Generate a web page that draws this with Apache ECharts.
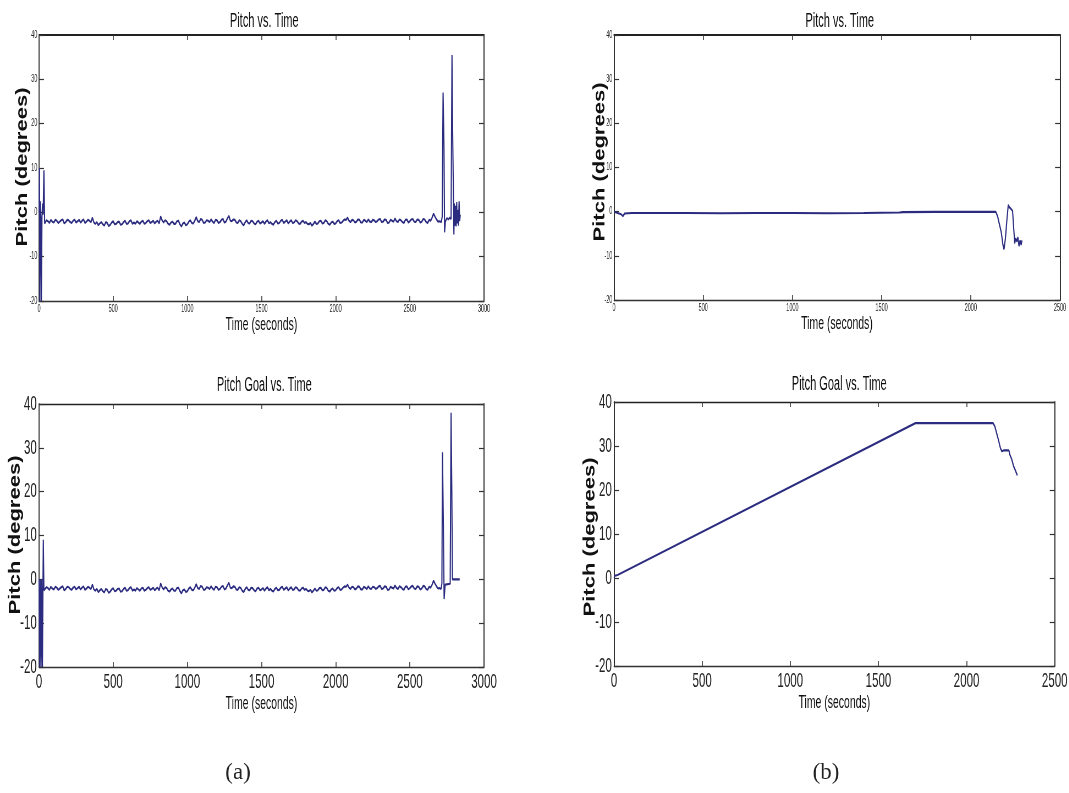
<!DOCTYPE html>
<html><head><meta charset="utf-8">
<script src="https://cdn.jsdelivr.net/npm/echarts@6/dist/echarts.min.js"></script>
<style>
html,body{margin:0;padding:0;background:#fff;overflow:hidden;width:1069px;height:793px}
#c{width:1944px;height:793px;transform:scaleX(0.55);transform-origin:0 0;}
</style>
</head><body><div id="c"></div>
<script>
// ---------------- DATA ----------------
const yTicks = [-20, -10, 0, 10, 20, 30, 40];
const xTicksA = [0, 500, 1000, 1500, 2000, 2500, 3000];
const xTicksB = [0, 500, 1000, 1500, 2000, 2500];

// (a) cruise noise (shared by pitch and pitch goal)
const noiseT = [40,60,80,100,120,140,160,180,200,220,
240,260,280,300,320,340,360,380,400,420,
440,460,480,500,520,540,560,580,600,620,
640,660,680,700,720,740,760,780,800,820,
840,860,880,900,920,940,960,980,1000,1020,
1040,1060,1080,1100,1120,1140,1160,1180,1200,1220,
1240,1260,1280,1300,1320,1340,1360,1380,1400,1420,
1440,1460,1480,1500,1520,1540,1560,1580,1600,1620,
1640,1660,1680,1700,1720,1740,1760,1780,1800,1820,
1840,1860,1880,1900,1920,1940,1960,1980,2000,2020,
2040,2060,2080,2100,2120,2140,2160,2180,2200,2220,
2240,2260,2280,2300,2320,2340,2360,2380,2400,2420,
2440,2460,2480,2500,2520,2540,2560,2580,2600,2620,
2640,2660,2680,2700];
const noiseV = [-2.4,-2.0,-1.7,-2.3,-1.9,-2.1,-1.6,-2.2,-1.8,-2.4,
-1.7,-2.0,-2.3,-1.6,-2.1,-1.9,-1.2,-2.6,-2.9,-2.2,
-3.0,-2.4,-2.8,-2.0,-2.6,-2.1,-2.7,-1.9,-2.5,-1.8,
-2.3,-2.0,-2.6,-1.9,-2.4,-1.8,-2.2,-2.5,-1.9,-0.9,
-2.3,-2.0,-2.8,-2.1,-2.6,-1.9,-3.2,-2.3,-2.7,-1.8,
-2.5,-1.1,-2.2,-1.7,-2.3,-1.9,-1.6,-2.4,-1.8,-2.2,
-1.5,-2.1,-0.8,-2.0,-1.7,-2.4,-2.0,-2.9,-1.8,-2.5,
-2.0,-2.7,-1.9,-2.3,-2.6,-1.8,-2.2,-2.8,-1.9,-2.4,
-1.7,-2.1,-2.5,-1.8,-2.3,-2.0,-2.6,-1.9,-2.2,-2.7,
-3.0,-2.1,-2.5,-1.9,-2.4,-2.0,-2.8,-2.1,-2.5,-1.8,
-2.3,-1.6,-1.2,-2.2,-1.8,-2.1,-1.7,-2.3,-1.9,-1.6,
-2.2,-1.8,-2.0,-1.5,-2.1,-1.7,-2.3,-1.9,-1.4,-2.2,
-1.8,-2.4,-1.6,-2.0,-1.5,-2.2,-1.7,-2.1,-1.6,-2.4,
-1.9,-0.3,-1.6,-2.0];
const noiseMidT = [50,70,90,110,130,150,170,190,210,230,
250,270,290,310,330,350,370,390,410,430,
450,470,490,510,530,550,570,590,610,630,
650,670,690,710,730,750,770,790,810,830,
850,870,890,910,930,950,970,990,1010,1030,
1050,1070,1090,1110,1130,1150,1170,1190,1210,1230,
1250,1270,1290,1310,1330,1350,1370,1390,1410,1430,
1450,1470,1490,1510,1530,1550,1570,1590,1610,1630,
1650,1670,1690,1710,1730,1750,1770,1790,1810,1830,
1850,1870,1890,1910,1930,1950,1970,1990,2010,2030,
2050,2070,2090,2110,2130,2150,2170,2190,2210,2230,
2250,2270,2290,2310,2330,2350,2370,2390,2410,2430,
2450,2470,2490,2510,2530,2550,2570,2590,2610,2630,
2650,2670,2690];
const noiseMidV = [-1.8,-2.4,-2.1,-1.7,-2.4,-1.8,-2.5,-1.7,-2.2,-1.9,
-2.3,-1.7,-1.9,-2.4,-1.7,-2.2,-2.3,-2.2,-2.5,-2.7,
-2.2,-3.1,-2.3,-2.7,-2.2,-2.8,-2.2,-2.6,-2.0,-2.6,
-2.6,-2.3,-2.1,-2.6,-2.0,-2.4,-1.9,-2.1,-2.5,-1.8,
-1.8,-2.6,-2.3,-2.6,-2.0,-2.7,-2.5,-2.9,-2.1,-2.4,
-1.9,-2.0,-1.5,-2.4,-1.8,-2.2,-2.1,-1.7,-2.4,-1.7,
-2.3,-1.4,-1.9,-1.6,-2.3,-1.8,-2.6,-2.2,-2.4,-1.9,
-2.5,-2.1,-2.5,-2.0,-2.1,-2.5,-2.6,-2.2,-2.5,-1.9,
-2.4,-1.8,-2.1,-2.4,-1.8,-2.5,-2.1,-2.4,-2.6,-2.4,
-2.6,-2.6,-2.0,-2.5,-1.8,-2.6,-2.3,-2.6,-2.0,-2.4,
-1.9,-1.7,-1.9,-1.7,-2.3,-1.6,-2.3,-1.7,-2.2,-2.1,
-1.7,-2.2,-1.6,-2.2,-1.6,-2.4,-1.7,-2.1,-2.0,-1.6,
-2.2,-1.7,-2.3,-1.6,-2.1,-1.6,-2.3,-1.5,-2.2,-1.7,
-1.2,-1.0,-2.1];

// (a) pitch: launch and end segments
const aPitchStartT = [0,3,6,9,12,16,20,24,28,33,38];
const aPitchStartV = [0,10,-20,2.5,-1,-20,-1,2,-0.5,9.5,-2.5];
const aPitchEndT = [2712,2718,2724,2730,2734,2740,2750,2760,2770,2778,2784,2788,2792,2797,2800,2804,2808,2812,2816,2820,2824,2828,2832,2836,2840];
const aPitchEndV = [-2.2,-1.0,27,15,-4.5,-2.0,-1.3,-1.6,-1.2,-1.5,35.5,20,8.5,-5,2.0,-3,1.5,-3.2,2.3,-2.5,0.5,-3.0,2.5,-2.0,-0.5];

// (a) pitch goal: launch and end segments
const aGoalStartT = [0,4,5,8,9,13,14,17,18,22,23,26,27,29,33];
const aGoalStartV = [0,0,-20,-20,0,0,-20,-20,0,0,-20,-20,0,9,-2.5];
const aGoalEndT = [2710,2716,2720,2726,2731,2738,2772,2778,2783,2787,2836];
const aGoalEndV = [-2.2,-1.0,29,12,-4.5,-1.2,-1.0,38,20,0,0];

// (b) pitch
const bPitchT = [0,20,40,50,60,100,200,400,600,800,1000,1200,1400,1600,1620,1800,2000,2140,2150,2160,2170,2180,2186,2194,2202,2210,2216,2226,2234,2240,2246,2252,2258,2264,2270,2276,2282,2287];
const bPitchV = [0,-0.3,-0.6,-1.0,-0.4,-0.3,-0.3,-0.3,-0.35,-0.3,-0.3,-0.35,-0.3,-0.2,-0.1,-0.05,-0.05,-0.05,-1,-2.8,-4.5,-7.5,-8.5,-6,-2,1.5,1.0,0.6,0.2,-3.5,-7.2,-6.0,-6.8,-5.8,-7.8,-6.5,-7.5,-6.5];

// (b) pitch goal
const bGoalT = [0,5,20,1710,2150,2160,2170,2180,2192,2200,2210,2240,2246,2256,2266,2276,2288];
const bGoalV = [0,0.5,0.7,35.2,35.2,34.5,33,31.5,29.5,28.8,29,29,28,27,25.5,24.5,23.3];

// ---------------- LAYOUT ----------------
const S = 0.55;               // horizontal squeeze of the whole figure
const cx = px => px / S;      // screen x -> chart x
const LINE = '#2b2b80';
const SANS = '"Liberation Sans", Arial, sans-serif';

const pairs = (ts, vs) => ts.map((t, i) => [t, vs[i]]);
const noise = pairs(noiseT.concat(noiseMidT), noiseV.concat(noiseMidV)).sort((a, b) => a[0] - b[0]);
const aPitch = pairs(aPitchStartT, aPitchStartV).concat(noise, pairs(aPitchEndT, aPitchEndV));
const aGoal = pairs(aGoalStartT, aGoalStartV).concat(noise, pairs(aGoalEndT, aGoalEndV));
const bPitch = pairs(bPitchT, bPitchV);
const bGoal = pairs(bGoalT, bGoalV);

const grids = [
  {left: cx(39),  top: 35,  width: cx(445), height: 266},
  {left: cx(614), top: 35,  width: cx(446), height: 265},
  {left: cx(39),  top: 404, width: cx(445), height: 263},
  {left: cx(614), top: 402, width: cx(445), height: 264}
];
const small = [true, true, false, false];
const xTickSets = [xTicksA, xTicksB, xTicksA, xTicksB];
const nameGaps = [14, 14, 25, 25];

const xAxes = [], yAxes = [];
grids.forEach((g, i) => {
  const ticks = xTickSets[i];
  const fs = small[i] ? 10 : 21;
  const base = {
    type: 'value', gridIndex: i, min: ticks[0], max: ticks[ticks.length - 1],
    interval: ticks[1] - ticks[0], splitLine: {show: false},
    axisLine: {show: true, onZero: false, lineStyle: {color: '#333', width: 1.4}},
    axisTick: {show: true, inside: true, length: 5, lineStyle: {color: '#333', width: 1.6}}
  };
  xAxes.push(Object.assign({}, base, {
    position: 'bottom',
    axisLabel: {show: true, fontSize: fs, fontFamily: SANS, color: '#222', margin: small[i] ? 3 : 5,
      formatter: v => String(v)},
    name: 'Time (seconds)', nameLocation: 'middle', nameGap: nameGaps[i],
    nameTextStyle: {fontSize: 19, fontFamily: SANS, color: '#111'}
  }));
  xAxes.push(Object.assign({}, base, {
    position: 'top', axisLabel: {show: false},
    axisLine: {show: true, onZero: false, lineStyle: {color: '#222', width: small[i] ? 2 : 1.4}}
  }));
  const ybase = {
    type: 'value', gridIndex: i, min: yTicks[0], max: yTicks[yTicks.length - 1],
    interval: yTicks[1] - yTicks[0], splitLine: {show: false},
    axisLine: {show: true, onZero: false, lineStyle: {color: '#333', width: 2}},
    axisTick: {show: true, inside: true, length: 9, lineStyle: {color: '#333', width: 1.2}}
  };
  yAxes.push(Object.assign({}, ybase, {
    position: 'left',
    axisLabel: {show: true, fontSize: fs, fontFamily: SANS, color: '#222', margin: small[i] ? 3 : 4,
      formatter: v => String(v)}
  }));
  yAxes.push(Object.assign({}, ybase, {position: 'right', axisLabel: {show: false}}));
});

const seriesData = [aPitch, bPitch, aGoal, bGoal];
const series = seriesData.map((d, i) => ({
  type: 'line', xAxisIndex: 2 * i, yAxisIndex: 2 * i, data: d,
  showSymbol: false, symbol: 'none', sampling: null, animation: false,
  lineStyle: {color: LINE, width: 2.1}, itemStyle: {color: LINE}
}));

const titleTexts = ['Pitch vs. Time', 'Pitch vs. Time', 'Pitch Goal vs. Time', 'Pitch Goal vs. Time'];
const titleTops = [6, 6, 370, 369];
const titles = grids.map((g, i) => ({
  text: titleTexts[i], left: g.left + g.width / 2, top: titleTops[i], textAlign: 'center',
  textStyle: {fontSize: 20, fontWeight: 'normal', fontFamily: SANS, color: '#111'}
}));

const yLabelPos = [[22.5, 167], [600, 162], [15.5, 535], [590, 537]];
const graphics = yLabelPos.map(p => ({
  type: 'text', x: cx(p[0]), y: p[1], rotation: Math.PI / 2, scaleY: 1.35,
  style: {text: 'Pitch (degrees)', font: 'bold 22px "Liberation Sans", Arial, sans-serif',
    fill: '#111', align: 'center', verticalAlign: 'middle'}
}));
[['(a)', 238, 773], ['(b)', 826, 773]].forEach(c => graphics.push({
  type: 'text', x: cx(c[1]), y: c[2], scaleX: 1 / S,
  style: {text: c[0], font: '23px "Liberation Serif", "DejaVu Serif", serif',
    fill: '#222', align: 'center', verticalAlign: 'middle'}
}));

const chart = echarts.init(document.getElementById('c'), null, {renderer: 'canvas'});
chart.setOption({
  animation: false, backgroundColor: '#fff',
  title: titles, grid: grids, xAxis: xAxes, yAxis: yAxes, series: series, graphic: graphics
});
</script></body></html>
